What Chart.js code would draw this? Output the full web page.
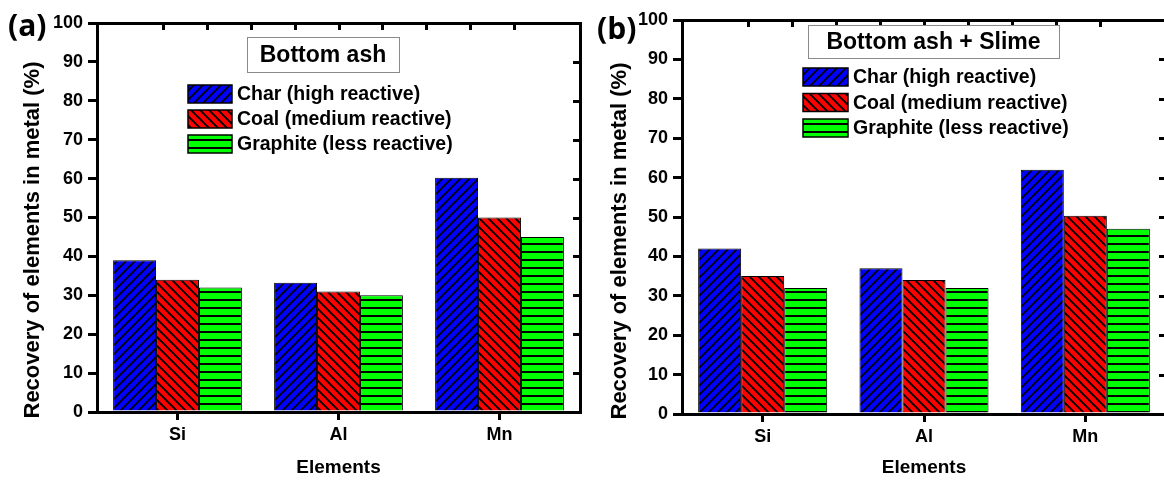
<!DOCTYPE html>
<html>
<head>
<meta charset="utf-8">
<script src="https://cdn.jsdelivr.net/npm/chart.js@4.4.1/dist/chart.umd.min.js"></script>
<style>
  html, body { margin: 0; padding: 0; background: #fff; overflow: hidden; }
  #wrap { position: relative; width: 1164px; height: 481px; overflow: hidden; }
  #chartA { position: absolute; left: 0; top: 0; }
  #chartB { position: absolute; left: 590px; top: 0; }
</style>
</head>
<body>
<div id="wrap">
  <canvas id="chartA" width="590" height="481"></canvas>
  <canvas id="chartB" width="590" height="481"></canvas>
</div>
<script>
// recovery (%) of each element into the metal phase
const elements = ['Si', 'Al', 'Mn'];
const reductants = ['Char (high reactive)', 'Coal (medium reactive)', 'Graphite (less reactive)'];

const ashChar = [39, 33.2, 60.2];
const ashCoal = [34, 31, 50];
const ashGraphite = [32, 30, 45];

const slimeChar = [42, 37, 62];
const slimeCoal = [35, 34, 50.3];
const slimeGraphite = [32, 32, 47];

const FONT = '"Liberation Sans", Arial, sans-serif';
Chart.defaults.font.family = FONT;
Chart.defaults.color = '#000';

// small repeating tiles for the hatched fills
function hatch(fill, kind) {
  const s = kind === '-' ? 8 : 9;
  const c = document.createElement('canvas');
  c.width = s; c.height = s;
  const g = c.getContext('2d');
  g.fillStyle = fill;
  g.fillRect(0, 0, s, s);
  g.strokeStyle = '#000';
  g.beginPath();
  if (kind === '/') {
    g.lineWidth = 1.7;
    g.moveTo(-1, s + 1); g.lineTo(s + 1, -1);
    g.moveTo(-2, 2); g.lineTo(2, -2);
    g.moveTo(s - 2, s + 2); g.lineTo(s + 2, s - 2);
  } else if (kind === '\\') {
    g.lineWidth = 1.9;
    g.moveTo(-1, -1); g.lineTo(s + 1, s + 1);
    g.moveTo(s - 2, -2); g.lineTo(s + 2, 2);
    g.moveTo(-2, s - 2); g.lineTo(2, s + 2);
  } else {
    g.lineWidth = 2;
    g.moveTo(0, s / 2); g.lineTo(s, s / 2);
  }
  g.stroke();
  return g.createPattern(c, 'repeat');
}

const fills = [hatch('#0000ff', '/'), hatch('#ff0000', '\\'), hatch('#00ff00', '-')];

// inward ticks on the top and right edges of the frame
const frameTicks = {
  id: 'frameTicks',
  afterDraw(chart, args, opts) {
    const { ctx, chartArea: a } = chart;
    const len = opts.length || 7;
    const y = chart.scales.y, top = chart.scales.xTop;
    ctx.save();
    ctx.strokeStyle = '#000';
    ctx.lineWidth = 3;
    ctx.beginPath();
    y.ticks.forEach(t => {
      if (t.value <= y.min || t.value >= y.max) return;
      const py = Math.round(y.getPixelForValue(t.value)) + 0.5;
      ctx.moveTo(a.right, py); ctx.lineTo(a.right - len, py);
    });
    top.ticks.forEach(t => {
      if (t.value <= top.min || t.value >= top.max) return;
      const px = Math.round(top.getPixelForValue(t.value)) + 0.5;
      ctx.moveTo(px, a.top); ctx.lineTo(px, a.top + len);
    });
    ctx.stroke();
    ctx.restore();
  }
};

// boxed caption and hatched key inside the plot
const keyBox = {
  id: 'keyBox',
  afterDraw(chart, args, o) {
    const ctx = chart.ctx;
    ctx.save();
    ctx.strokeStyle = '#8a8a8a';
    ctx.lineWidth = 1;
    ctx.fillStyle = '#fff';
    ctx.fillRect(o.box.x, o.box.y, o.box.w, o.box.h);
    ctx.strokeRect(o.box.x + 0.5, o.box.y + 0.5, o.box.w, o.box.h);
    ctx.fillStyle = '#000';
    ctx.font = 'bold 23px ' + FONT;
    ctx.textAlign = 'center';
    ctx.textBaseline = 'middle';
    ctx.fillText(o.title, o.box.x + o.box.w / 2, o.box.y + o.box.h / 2 + 1);

    ctx.font = 'bold 19.5px ' + FONT;
    ctx.textAlign = 'left';
    chart.data.datasets.forEach((ds, i) => {
      const sy = o.key.y + i * o.key.step;
      ctx.fillStyle = ds.backgroundColor;
      ctx.fillRect(o.key.x, sy, o.key.w, o.key.h);
      ctx.strokeStyle = '#000';
      ctx.lineWidth = 1.5;
      ctx.strokeRect(o.key.x, sy, o.key.w, o.key.h);
      ctx.fillStyle = '#000';
      ctx.fillText(ds.label, o.key.x + o.key.w + 5, sy + o.key.h / 2 + 1);
    });
    ctx.restore();
  }
};

// panel letter and rotated value-axis title
const sideText = {
  id: 'sideText',
  afterDraw(chart, args, o) {
    const ctx = chart.ctx;
    ctx.save();
    ctx.fillStyle = '#000';
    ctx.textBaseline = 'middle';
    ctx.textAlign = 'left';
    ctx.font = 'bold 30px "Open Sans", ' + FONT;
    ctx.fillText(o.tag, o.tagX, o.tagY);
    ctx.translate(o.titleX, o.titleY);
    ctx.rotate(-Math.PI / 2);
    ctx.textAlign = 'center';
    ctx.font = 'bold 22px ' + FONT;
    ctx.fillText('Recovery of elements in metal (%)', 0, 0);
    ctx.restore();
  }
};

function makePanel(id, series, p) {
  const tickFont = { family: FONT, size: 18, weight: 'bold' };
  return new Chart(document.getElementById(id), {
    type: 'bar',
    data: {
      labels: elements,
      datasets: series.map((vals, i) => ({
        label: reductants[i],
        data: vals,
        backgroundColor: fills[i],
        borderColor: '#000',
        borderWidth: 1,
        categoryPercentage: 0.8,
        barPercentage: 1.0
      }))
    },
    options: {
      responsive: false,
      animation: false,
      layout: { padding: { top: p.top, right: p.right, bottom: 0, left: 0 } },
      plugins: {
        legend: { display: false },
        tooltip: { enabled: false },
        frameTicks: { length: 7 },
        keyBox: p.key,
        sideText: p.side
      },
      scales: {
        x: {
          z: 1,
          grid: { offset: false, drawOnChartArea: false, tickLength: 8, lineWidth: 3, color: '#000' },
          border: { width: 3, color: '#000' },
          ticks: { font: tickFont, color: '#000', padding: 4 },
          title: { display: true, text: 'Elements', color: '#000',
                   font: { family: FONT, size: 19, weight: 'bold' }, padding: { top: 0, bottom: 2 } },
          afterFit: s => { s.height = p.xHeight; }
        },
        xTop: {
          type: 'linear', position: 'top', min: 0, max: 10, z: 1,
          ticks: { display: false, stepSize: 1 },
          grid: { drawOnChartArea: false, drawTicks: false },
          border: { width: 3, color: '#000' },
          afterFit: s => { s.height = 0; }
        },
        y: {
          min: 0, max: 100, z: 1,
          ticks: { stepSize: 10, font: tickFont, color: '#000', padding: 5 },
          grid: { drawOnChartArea: false, tickLength: 9, lineWidth: 3, color: '#000' },
          border: { width: 3, color: '#000' },
          afterFit: s => { s.width = p.yWidth; }
        },
        yRight: {
          position: 'right', min: 0, max: 100, z: 1,
          ticks: { display: false },
          grid: { drawOnChartArea: false, drawTicks: false },
          border: { width: 3, color: '#000' },
          afterFit: s => { s.width = 0; }
        }
      }
    },
    plugins: [frameTicks, keyBox, sideText]
  });
}

makePanel('chartA', [ashChar, ashCoal, ashGraphite], {
  top: 23, right: 10, xHeight: 69, yWidth: 97,
  key: { title: 'Bottom ash', box: { x: 247, y: 37, w: 152, h: 35 },
         key: { x: 188, y: 85, w: 44, h: 18, step: 25 } },
  side: { tag: '(a)', tagX: 8, tagY: 27, titleX: 33, titleY: 240 }
});

makePanel('chartB', [slimeChar, slimeCoal, slimeGraphite], {
  top: 20, right: 14, xHeight: 67, yWidth: 92,
  key: { title: 'Bottom ash + Slime', box: { x: 218, y: 25, w: 251, h: 33 },
         key: { x: 213, y: 68, w: 45, h: 18, step: 25.5 } },
  side: { tag: '(b)', tagX: 7, tagY: 30, titleX: 30, titleY: 241 }
});
</script>
</body>
</html>
